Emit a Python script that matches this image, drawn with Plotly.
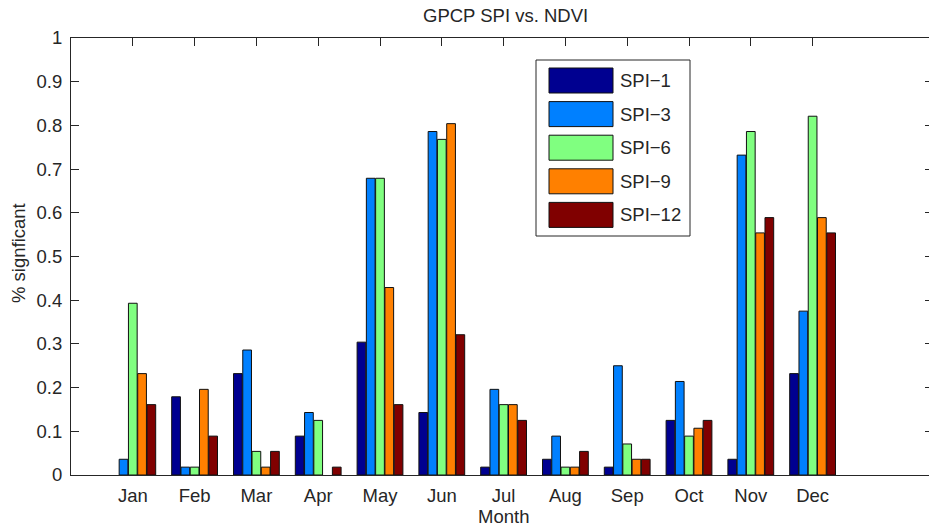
import plotly.graph_objects as go

months = ["Jan", "Feb", "Mar", "Apr", "May", "Jun", "Jul", "Aug", "Sep", "Oct", "Nov", "Dec"]
series_names = ["SPI\u22121", "SPI\u22123", "SPI\u22126", "SPI\u22129", "SPI\u221212"]
series_colors = ["#000090", "#0080FF", "#80FF80", "#FF8000", "#800000"]

spi1 = [0.0, 0.179, 0.232, 0.089, 0.304, 0.143, 0.018, 0.036, 0.018, 0.125, 0.036, 0.232]
spi3 = [0.036, 0.018, 0.286, 0.143, 0.679, 0.786, 0.196, 0.089, 0.250, 0.214, 0.732, 0.375]
spi6 = [0.393, 0.018, 0.054, 0.125, 0.679, 0.768, 0.161, 0.018, 0.071, 0.089, 0.786, 0.821]
spi9 = [0.232, 0.196, 0.018, 0.0, 0.429, 0.804, 0.161, 0.018, 0.036, 0.107, 0.554, 0.589]
spi12 = [0.161, 0.089, 0.054, 0.018, 0.161, 0.321, 0.125, 0.054, 0.036, 0.125, 0.589, 0.554]
series_values = [spi1, spi3, spi6, spi9, spi12]

y_ticks = [0, 0.1, 0.2, 0.3, 0.4, 0.5, 0.6, 0.7, 0.8, 0.9, 1]
y_ticktext = ["0", "0.1", "0.2", "0.3", "0.4", "0.5", "0.6", "0.7", "0.8", "0.9", "1"]

W, H = 929, 529
L, T, B = 71, 38, 54
plot_w = W - L
plot_h = H - T - B
x_max = plot_w / 61.8

FONT = "Liberation Sans, Arial, Helvetica, sans-serif"
INK = "#262626"
FS = 18.5

fig = go.Figure()
x_pos = list(range(1, len(months) + 1))
for name, color, vals in zip(series_names, series_colors, series_values):
    # empty bars (value 0) get no outline
    edge = [0 if v == 0 else 1 for v in vals]
    fig.add_trace(go.Bar(
        x=x_pos, y=vals, name=name,
        marker=dict(color=color, line=dict(color="#111111", width=edge)),
        showlegend=False,
    ))

fig.update_layout(
    width=W, height=H,
    margin=dict(l=L, r=0, t=T, b=B),
    paper_bgcolor="white", plot_bgcolor="white",
    barmode="group", bargap=0.25, bargroupgap=0.06,
    font=dict(family=FONT, size=FS, color=INK),
    xaxis=dict(
        range=[0, x_max], tickmode="array", tickvals=x_pos, ticktext=months,
        ticks="", showgrid=False, zeroline=False,
        showline=True, linecolor=INK, linewidth=1,
        ticklabelstandoff=4,
    ),
    xaxis2=dict(
        overlaying="x", side="top", matches="x", tickmode="array", tickvals=x_pos,
        ticks="inside", ticklen=8, tickcolor=INK, showticklabels=False,
        showgrid=False, zeroline=False, showline=True, linecolor=INK, linewidth=1,
    ),
    yaxis=dict(
        range=[0, 1], tickmode="array", tickvals=y_ticks, ticktext=y_ticktext,
        ticks="inside", ticklen=8, tickcolor=INK, showgrid=False, zeroline=False,
        showline=True, linecolor=INK, linewidth=1, ticklabelstandoff=4,
    ),
    yaxis2=dict(
        overlaying="y", side="right", range=[0, 1], tickmode="array", tickvals=y_ticks,
        ticks="inside", ticklen=4, tickcolor=INK, showticklabels=False,
        showgrid=False, zeroline=False, showline=False,
    ),
)

# invisible trace so the secondary axes are drawn
fig.add_trace(go.Scatter(x=[None], y=[None], xaxis="x2", yaxis="y2", showlegend=False, hoverinfo="skip"))

def px_x(px):
    return (px - L) / plot_w

def px_y(py):
    return (H - B - py) / plot_h

# legend box with large swatches
shapes = [dict(type="rect", xref="paper", yref="paper",
               x0=px_x(536), x1=px_x(690), y0=px_y(236), y1=px_y(60),
               line=dict(color=INK, width=1), fillcolor="white", layer="above")]
annotations = []
for i, (name, color) in enumerate(zip(series_names, series_colors)):
    top = 68 + i * 33.6
    shapes.append(dict(type="rect", xref="paper", yref="paper",
                       x0=px_x(549), x1=px_x(613), y0=px_y(top + 25), y1=px_y(top),
                       line=dict(color="#111111", width=1), fillcolor=color, layer="above"))
    annotations.append(dict(xref="paper", yref="paper", x=px_x(618), y=px_y(top + 12.5),
                            text=name, showarrow=False, xanchor="left", yanchor="middle",
                            font=dict(size=FS, color=INK, family=FONT)))

annotations += [
    dict(xref="paper", yref="paper", x=px_x(505), y=px_y(15), text="GPCP SPI vs. NDVI",
         showarrow=False, xanchor="center", yanchor="middle", font=dict(size=FS, color=INK)),
    dict(xref="paper", yref="paper", x=px_x(504), y=px_y(516), text="Month",
         showarrow=False, xanchor="center", yanchor="middle", font=dict(size=FS, color=INK)),
    dict(xref="paper", yref="paper", x=px_x(18), y=px_y(253), text="% signficant",
         showarrow=False, textangle=-90, xanchor="center", yanchor="middle",
         font=dict(size=FS, color=INK)),
]

fig.update_layout(shapes=shapes, annotations=annotations)
fig.write_html("out.html")
